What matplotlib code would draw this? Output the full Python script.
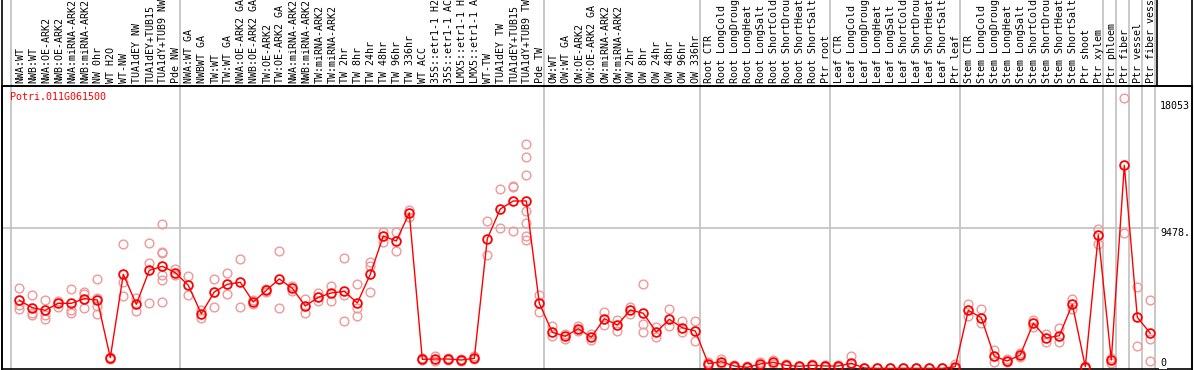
import numpy as np
import matplotlib
matplotlib.use("Agg")
import matplotlib.pyplot as plt
from matplotlib.lines import Line2D
import matplotlib.transforms as mtransforms

# 条件名
conditions = [
    "NWA:WT", "NWB:WT", "NWA:OE-ARK2", "NWB:OE-ARK2", "NWA:miRNA-ARK2", "NWB:miRNA-ARK2",
    "NW 0hr", "WT H2O", "WT-NW", "TUA1dEY NW", "TUA1dEY+TUB15", "TUA1dY+TUB9 NW", "Pde NW",
    "NWA:WT GA", "NWBWT GA", "TW:WT", "TW:WT GA", "NWA:OE-ARK2 GA", "NWB:OE-ARK2 GA",
    "TW:OE-ARK2", "TW:OE-ARK2 GA", "NWA:miRNA-ARK2", "NWB:miRNA-ARK2", "TW:miRNA-ARK2",
    "TW:miRNA-ARK2", "TW 2hr", "TW 8hr", "TW 24hr", "TW 48hr", "TW 96hr", "TW 336hr",
    "WT ACC", "35S::etr1-1 H2", "35S::etr1-1 AC", "LMX5::etr1-1 H", "LMX5::etr1-1 A",
    "WT-TW", "TUA1dEY TW", "TUA1dEY+TUB15", "TUA1dY+TUB9 TW", "Pde TW",
    "OW:WT", "OW:WT GA", "OW:OE-ARK2", "OW:OE-ARK2 GA", "OW:miRNA-ARK2", "OW:miRNA-ARK2",
    "OW 2hr", "OW 8hr", "OW 24hr", "OW 48hr", "OW 96hr", "OW 336hr",
    "Root CTR", "Root LongCold", "Root LongDroug", "Root LongHeat", "Root LongSalt",
    "Root ShortCold", "Root ShortDrou", "Root ShortHeat", "Root ShortSalt", "Ptr root",
    "Leaf CTR", "Leaf LongCold", "Leaf LongDroug", "Leaf LongHeat", "Leaf LongSalt",
    "Leaf ShortCold", "Leaf ShortDrou", "Leaf ShortHeat", "Leaf ShortSalt", "Ptr leaf",
    "Stem CTR", "Stem LongCold", "Stem LongDroug", "Stem LongHeat", "Stem LongSalt",
    "Stem ShortCold", "Stem ShortDrou", "Stem ShortHeat", "Stem ShortSalt", "Ptr shoot",
    "Ptr xylem", "Ptr phloem", "Ptr fiber", "Ptr vessel", "Ptr fiber vess",
]

# 平均値
means = [
    4601, 4102, 3926, 4398, 4398, 4709, 4621, 729, 6355, 4331, 6625, 6894, 6463,
    5613, 3697, 5161, 5680, 5815, 4486, 5275, 6038, 5410, 4216, 4803, 5093, 5208,
    4419, 6355, 8938, 8601, 10490, 621, 641, 641, 573, 688, 8756, 10760, 11300, 11300,
    4398, 2442, 2172, 2685, 2105, 3360, 2935, 3946, 3724, 2462, 3319, 2752, 2530,
    324, 459, 169, 81, 304, 418, 216, 148, 216, 169,
    169, 351, 34, 10, 10, 15, 10, 10, 10, 121,
    3926, 3427, 823, 506, 911, 3049, 2058, 2213, 4331, 121, 9006,
    573, 13708, 3454, 2375,
]

# 反復ごとの値
replicates = [
    [5410, 4284, 3994], [4958, 3764, 3609], [4601, 3609, 3360], [4574, 4169],
    [5343, 3946, 3764], [5161, 5026, 4102], [6017, 4776, 4216, 3656], [776, 641],
    [8399, 5856, 4891], [4736, 3899], [8466, 7117, 4398],
    [9728, 7859, 7792, 6308, 5970, 4486], [6692, 6287],
    [6220, 4938], [3946, 3427], [6017, 4129], [6442, 5006], [7367, 4169],
    [4621, 4351], [5363, 5161], [7947, 4061], [5565, 5228], [4688, 3724],
    [5073, 4574], [5565, 4554], [7454, 4979, 3204], [5680, 4061, 3521],
    [7164, 6915, 5161], [9188, 8554], [9188, 7906], [10693, 10240],
    [708, 573], [843, 506], [708, 573], [641, 506], [810, 607],
    [9930, 7636], [12089, 9478], [12312, 12245, 9276],
    [15145, 14248, 13033, 10645, 9795, 8959, 8689], [4958, 3811],
    [2867, 2192], [2327, 2010], [2867, 2530], [2327, 1923], [3811, 2955],
    [3272, 2550], [4129, 3697], [5680, 2982, 2442], [2800, 2145], [4014, 2887],
    [3204, 2442], [3204, 1855],
    [405, 236], [661, 304], [236, 101], [135, 34], [439, 169], [573, 304],
    [304, 135], [202, 101], [304, 135], [236, 101],
    [236, 101], [843, 34], [67, 0], [20, 0], [20, 0], [40, 0], [20, 0], [20, 0],
    [20, 0], [270, 0],
    [4371, 3542], [4014, 3049], [1268, 418], [607, 405], [1046, 776], [3272, 2800],
    [2327, 1808], [2732, 1767], [4688, 4014], [169, 0], [9411, 8379],
    [688, 391], [18228, 9121], [5498, 1498], [4621, 1970, 486],
]

# グループの区切り（この条件の後に線を引く）
group_ends = [-1, 12, 40, 52, 62, 72, 83, 84, 85, 86, 87]

gene = "Potri.011G061500"
ref_ticks = [18053, 9478, 0]
ref_labels = ["18053", "9478.", "0"]

W, H = 1194, 370
fig = plt.figure(figsize=(W / 100, H / 100), dpi=100)
# プロット領域: x 2..1192, y 86..369 (ピクセル)
ax = fig.add_axes([2 / W, (H - 369) / H, 1190 / W, 283 / H])

mono = "DejaVu Sans Mono"
fs = 7.2
x = np.arange(len(conditions))

for i, reps in enumerate(replicates):
    ax.plot([i] * len(reps), reps, linestyle="none", marker="o", ms=6.3,
            mfc="none", mec="#f09898", mew=1.0, zorder=2)
ax.plot(x, means, color="#ff0000", lw=1, marker="o", ms=6.3,
        mfc="none", mec="#ff0000", mew=1.3, zorder=3)

step = 13.0
ax.set_xlim((2 - 19.3) / step, (1192 - 19.3) / step)
ax.set_ylim(-34, 19057)
ax.set_xticks([])
ax.set_yticks([])
for s in ax.spines.values():
    s.set_color("black")
    s.set_linewidth(1.2)

top_frac = 1 + 86 / 283
for g in group_ends:
    ax.axvline(g + 0.38, ymin=0, ymax=top_frac, color="#c0c0c0", lw=1.2,
               clip_on=False, zorder=1)
ax.axhline(9478, xmin=0, xmax=1156 / 1190, color="#c0c0c0", lw=1.2, zorder=1)

# 条件ラベル（上部、縦書き）
lab_tr = mtransforms.blended_transform_factory(ax.transData, ax.transAxes)
for i, name in enumerate(conditions):
    ax.text(i + 0.08, 1 + 3 / 283, name, rotation=90, ha="center", va="bottom",
            family=mono, fontsize=fs, transform=lab_tr, clip_on=False)

# 右側の値ラベル
val_tr = mtransforms.blended_transform_factory(ax.transAxes, ax.transData)
for v, t in zip(ref_ticks, ref_labels):
    ax.text((1160 - 2) / 1190, v, t, ha="left", va="bottom" if v == 0 else "top",
            family=mono, fontsize=fs, transform=val_tr,
            bbox=dict(facecolor="white", edgecolor="none", pad=0.5))

ax.text(8 / 1190, 1 - 6 / 283, gene, color="#ff0000", ha="left", va="top",
        family=mono, fontsize=fs, transform=ax.transAxes)

# 外枠の線
fig.add_artist(Line2D([2 / W, 2 / W], [0, 1], color="black", lw=1.2))
fig.add_artist(Line2D([1192 / W, 1192 / W], [0, 1], color="black", lw=1.2))
fig.add_artist(Line2D([1157 / W, 1157 / W], [(H - 86) / H, 1], color="black", lw=1.2))
fig.add_artist(Line2D([2 / W, 1192 / W], [(H - 86) / H, (H - 86) / H], color="black", lw=1.2))

fig.savefig("out.png", dpi=100)
